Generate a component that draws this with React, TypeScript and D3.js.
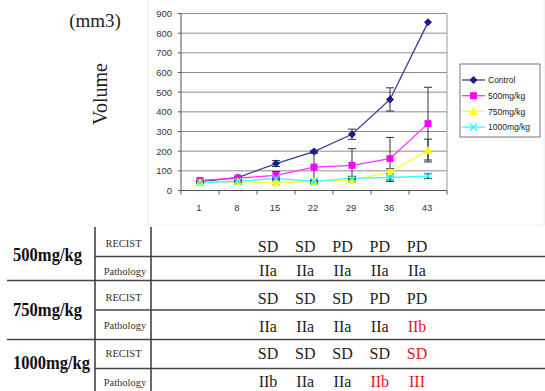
import * as d3 from "d3";
import React from "react";

// chart data
const days = ["1", "8", "15", "22", "29", "36", "43"];
const seriesNames = ["Control", "500mg/kg", "750mg/kg", "1000mg/kg"];
const controlVals = [45, 66, 137, 198, 286, 463, 855];
const controlErr = [5, 5, 15, 6, 26, 59, 0];
const dose500Vals = [51, 63, 77, 119, 128, 162, 340];
const dose500Err = [4, 5, 20, 70, 85, 108, 185];
const dose750Vals = [42, 45, 40, 45, 52, 93, 203];
const dose750Err = [4, 4, 12, 8, 8, 18, 58];
const dose1000Vals = [40, 47, 62, 46, 63, 66, 73];
const dose1000Err = [4, 4, 6, 5, 8, 20, 12];
const yTicks = [0, 100, 200, 300, 400, 500, 600, 700, 800, 900];

// table data
const groups = ["500mg/kg", "750mg/kg", "1000mg/kg"];
const recist500 = ["SD", "SD", "PD", "PD", "PD"];
const path500 = ["IIa", "IIa", "IIa", "IIa", "IIa"];
const recist750 = ["SD", "SD", "SD", "PD", "PD"];
const path750 = ["IIa", "IIa", "IIa", "IIa", "IIb"];
const recist1000 = ["SD", "SD", "SD", "SD", "SD"];
const path1000 = ["IIb", "IIa", "IIa", "IIb", "III"];
const redCells = ["1-1-4", "2-0-4", "2-1-3", "2-1-4"];

const colors = ["#1c1c8a", "#ff00ff", "#ffff00", "#00ffff"];
const lineColors = ["#3a3aa0", "#ff33ff", "#ffff33", "#33ffff"];

const Marker = ({ kind, x, y, color }: { kind: number; x: number; y: number; color: string }) => {
  if (kind === 0) {
    return <path d={`M${x},${y - 4}L${x + 4},${y}L${x},${y + 4}L${x - 4},${y}Z`} fill={color} />;
  }
  if (kind === 1) {
    return <rect x={x - 3.5} y={y - 3.5} width={7} height={7} fill={color} />;
  }
  if (kind === 2) {
    return <path d={`M${x},${y - 4.5}L${x + 4.5},${y + 3.5}L${x - 4.5},${y + 3.5}Z`} fill={color} />;
  }
  return (
    <path d={`M${x - 3.5},${y - 3.5}L${x + 3.5},${y + 3.5}M${x + 3.5},${y - 3.5}L${x - 3.5},${y + 3.5}`} stroke={color} strokeWidth={1.3} />
  );
};

const App = () => {
  const width = 545;
  const height = 391;
  const plot = { left: 181, right: 447, top: 13.5, bottom: 190.5 };

  const x = d3.scaleBand().domain(days).range([plot.left, plot.right]).padding(0);
  const y = d3.scaleLinear().domain([0, 900]).range([plot.bottom, plot.top]);
  const cx = (d: string) => (x(d) as number) + x.bandwidth() / 2;

  const values = [controlVals, dose500Vals, dose750Vals, dose1000Vals];
  const errors = [controlErr, dose500Err, dose750Err, dose1000Err];

  const line = d3
    .line<number>()
    .x((_, i) => cx(days[i]))
    .y((d) => y(d));

  // table layout
  const colX = d3.scalePoint().domain(["0", "1", "2", "3", "4"]).range([268, 417]);
  const groupRows = [
    [recist500, path500],
    [recist750, path750],
    [recist1000, path1000],
  ];
  const rowY = [
    [246, 270],
    [298, 326],
    [353, 381],
  ];
  const subY = [
    [243, 271],
    [297, 325],
    [353, 382],
  ];
  const groupY = [255, 310, 363];
  const groupW = [69, 69, 77];
  const subLines = [256.5, 310, 368.5];
  const groupLines = [280.5, 339.5];

  return (
    <svg width={width} height={height} style={{ position: "absolute", left: 0, top: 0, background: "#fff" }}>
      <rect x={148} y={-1} width={396} height={226} fill="none" stroke="#ececec" />

      {/* gridlines */}
      {yTicks.map((t) => (
        <line key={t} x1={plot.left} x2={plot.right} y1={y(t)} y2={y(t)} stroke="#8c8c8c" strokeWidth={1} />
      ))}
      <line x1={plot.right} x2={plot.right} y1={plot.top} y2={plot.bottom} stroke="#9a9a9a" />
      <line x1={plot.left} x2={plot.left} y1={plot.top} y2={plot.bottom} stroke="#555" />
      <line x1={plot.left} x2={plot.right} y1={plot.bottom} y2={plot.bottom} stroke="#555" />
      {yTicks.map((t) => (
        <g key={"yt" + t}>
          <line x1={plot.left - 3} x2={plot.left} y1={y(t)} y2={y(t)} stroke="#555" />
          <text x={172} y={y(t) + 3.5} textAnchor="end" fontFamily="Arial, Liberation Sans, sans-serif" fontSize={9.5} fill="#333">
            {t}
          </text>
        </g>
      ))}
      {days.map((d, i) => (
        <g key={"xt" + d}>
          <line x1={(x(d) as number) + x.bandwidth()} x2={(x(d) as number) + x.bandwidth()} y1={plot.bottom} y2={plot.bottom + 4} stroke="#555" />
          {i === 0 && <line x1={plot.left} x2={plot.left} y1={plot.bottom} y2={plot.bottom + 4} stroke="#555" />}
          <text x={cx(d) - 1} y={211} textAnchor="middle" fontFamily="Arial, Liberation Sans, sans-serif" fontSize={9.5} fill="#333">
            {d}
          </text>
        </g>
      ))}

      {/* series */}
      {values.map((vals, s) => (
        <path key={"l" + s} d={line(vals) || ""} fill="none" stroke={lineColors[s]} strokeWidth={1.3} />
      ))}
      {values.map((vals, s) =>
        vals.map((v, i) => {
          const e = errors[s][i];
          if (!e) return null;
          const px = cx(days[i]);
          return (
            <g key={`e${s}-${i}`} stroke="#333" strokeWidth={1}>
              <line x1={px} x2={px} y1={y(v + e)} y2={y(Math.max(0, v - e))} />
              <line x1={px - 4} x2={px + 4} y1={y(v + e)} y2={y(v + e)} />
              <line x1={px - 4} x2={px + 4} y1={y(Math.max(0, v - e))} y2={y(Math.max(0, v - e))} />
            </g>
          );
        })
      )}
      {values.map((vals, s) =>
        vals.map((v, i) => <Marker key={`m${s}-${i}`} kind={s} x={cx(days[i])} y={y(v)} color={colors[s]} />)
      )}

      {/* legend */}
      <rect x={460} y={64} width={80} height={73} fill="#fff" stroke="#777" />
      {seriesNames.map((n, i) => {
        const ly = 80 + i * 15.7;
        return (
          <g key={n}>
            <line x1={462} x2={485} y1={ly} y2={ly} stroke={lineColors[i]} strokeWidth={1.3} />
            <Marker kind={i} x={473.5} y={ly} color={colors[i]} />
            <text x={488} y={ly + 3.3} fontFamily="Arial, Liberation Sans, sans-serif" fontSize={8.5} fill="#222">
              {n}
            </text>
          </g>
        );
      })}

      {/* axis titles */}
      <text x={95} y={27} textAnchor="middle" fontFamily="Liberation Serif, Times New Roman, serif" fontSize={19} fill="#222">
        (mm3)
      </text>
      <text
        transform="translate(107,94) rotate(-90)"
        textAnchor="middle"
        fontFamily="Liberation Serif, Times New Roman, serif"
        fontSize={20}
        fill="#222"
      >
        Volume
      </text>

      {/* table */}
      <g stroke="#444" strokeWidth={1.6}>
        <line x1={95} x2={95} y1={227} y2={391} />
        <line x1={151} x2={151} y1={227} y2={391} />
        {subLines.map((ly) => (
          <line key={"s" + ly} x1={95} x2={545} y1={ly} y2={ly} />
        ))}
        {groupLines.map((ly) => (
          <line key={"g" + ly} x1={7} x2={545} y1={ly} y2={ly} />
        ))}
      </g>
      {groups.map((g, gi) => (
        <g key={g} fontFamily="Liberation Serif, Times New Roman, serif">
          <text
            x={13}
            y={groupY[gi] + 6}
            fontSize={18}
            fontWeight="bold"
            fill="#111"
            textLength={groupW[gi]}
            lengthAdjust="spacingAndGlyphs"
          >
            {g}
          </text>
          <text x={123.5} y={subY[gi][0] + 4} textAnchor="middle" fontSize={10.5} fill="#333">
            RECIST
          </text>
          <text x={125} y={subY[gi][1] + 4} textAnchor="middle" fontSize={10.5} fill="#333">
            Pathology
          </text>
          {groupRows[gi].map((row, ri) =>
            row.map((v, ci) => (
              <text
                key={`${gi}-${ri}-${ci}`}
                x={colX(String(ci))}
                y={rowY[gi][ri] + 6}
                textAnchor="middle"
                fontSize={16}
                fill={redCells.includes(`${gi}-${ri}-${ci}`) ? "#e8141e" : "#222"}
              >
                {v}
              </text>
            ))
          )}
        </g>
      ))}
    </svg>
  );
};

export default App;
